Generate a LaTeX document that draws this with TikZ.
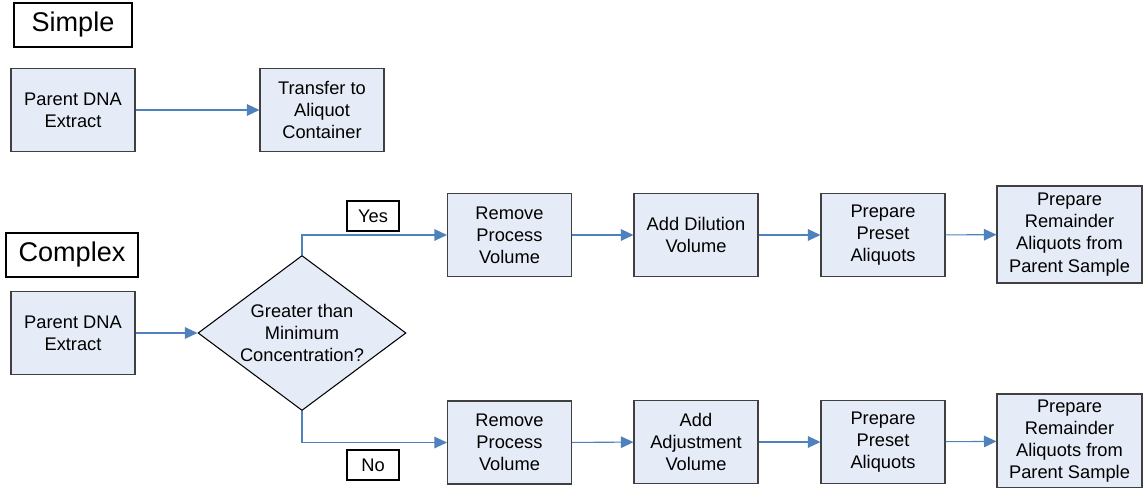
\documentclass[tikz,border=0pt]{standalone}
\usepackage{fontspec}
\setmainfont{Liberation Sans}
\usepackage{tikz}
\usetikzlibrary{shapes.geometric}
\usetikzlibrary{arrows.meta}
\definecolor{boxfill}{RGB}{230,236,247}
\definecolor{boxline}{RGB}{64,64,64}
\definecolor{flowblue}{RGB}{79,129,189}
\tikzstyle{stage}=[rectangle, draw=boxline, fill=boxfill, line width=0.6pt, align=center, minimum width=2.48cm, minimum height=1.66cm, inner sep=1pt, font=\fontsize{10.4}{12.6}\selectfont]
\tikzstyle{title}=[rectangle, draw=black, line width=1.3pt, align=center, minimum height=0.88cm, font=\fontsize{15.4}{18}\selectfont]
\tikzstyle{answer}=[rectangle, draw=black, line width=0.6pt, minimum width=1.04cm, minimum height=0.6cm, inner sep=1pt, font=\fontsize{10.4}{12.6}\selectfont]
\tikzstyle{flow}=[draw=flowblue, line width=0.6pt, -{Triangle[length=2.5mm, width=2.3mm]}]

\begin{document}
\begin{tikzpicture}
        \useasboundingbox (0, 0) rectangle (22.86, -9.76);

        %% Simple
        \node[title, minimum width=2.36cm] (simple) at (1.46, -0.50) {Simple};
        % Nodes
        \node[stage] (s_parent) at (1.46, -2.20) {Parent DNA\\Extract};
        \node[stage] (s_transfer) at (6.44, -2.20) {Transfer to\\Aliquot\\Container};
        % Connectors
        \draw[flow] (s_parent) -- (s_transfer);

        %% Complex
        \node[title, minimum width=2.64cm] (complex) at (1.44, -5.10) {Complex};
        % Nodes
        \node[stage] (c_parent) at (1.46, -6.66) {Parent DNA\\Extract};
        \node[diamond, draw=black, fill=boxfill, line width=0.6pt, align=center, inner xsep=-8pt, inner ysep=-3pt, minimum width=4.16cm, minimum height=3.10cm, font=\fontsize{10.4}{12.6}\selectfont] (c_check) at (6.04, -6.66) {Greater than\\Minimum\\Concentration?};
        \node[answer] (c_yes) at (7.46, -4.32) {Yes};
        \node[answer] (c_no) at (7.46, -9.30) {No};
        % Yes row
        \node[stage] (y_remove) at (10.19, -4.70) {Remove\\Process\\Volume};
        \node[stage] (y_dilute) at (13.92, -4.70) {Add Dilution\\Volume};
        \node[stage] (y_preset) at (17.66, -4.70) {Prepare\\Preset\\Aliquots};
        \node[stage, minimum width=2.90cm, minimum height=1.94cm] (y_rest) at (21.39, -4.69) {Prepare\\Remainder\\Aliquots from\\Parent Sample};
        % No row
        \node[stage] (n_remove) at (10.19, -8.85) {Remove\\Process\\Volume};
        \node[stage] (n_adjust) at (13.92, -8.84) {Add\\Adjustment\\Volume};
        \node[stage] (n_preset) at (17.66, -8.84) {Prepare\\Preset\\Aliquots};
        \node[stage, minimum width=2.90cm, minimum height=1.88cm] (n_rest) at (21.39, -8.82) {Prepare\\Remainder\\Aliquots from\\Parent Sample};
        % Connectors
        \draw[flow] (c_parent) -- (c_check);
        \draw[flow] (c_check.north) |- (y_remove.west);
        \draw[flow] (c_check.south) |- (n_remove.west);
        \draw[flow] (y_remove) -- (y_dilute);
        \draw[flow] (y_dilute) -- (y_preset);
        \draw[flow] (y_preset) -- (y_rest);
        \draw[flow] (n_remove) -- (n_adjust);
        \draw[flow] (n_adjust) -- (n_preset);
        \draw[flow] (n_preset) -- (n_rest);
    \end{tikzpicture}
\end{document}
